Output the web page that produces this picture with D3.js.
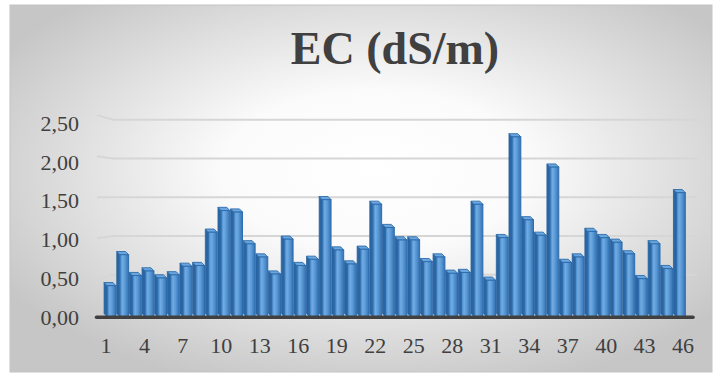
<!DOCTYPE html>
<html>
<head>
<meta charset="utf-8">
<script src="https://cdn.jsdelivr.net/npm/d3@7"></script>
<style>
  html, body { margin: 0; padding: 0; background: #ffffff; }
  svg { display: block; }
</style>
</head>
<body>
<svg id="chart" width="722" height="378"></svg>
<script>
// Sample numbers 1..46
const categories = d3.range(1, 47).map(String);

// Electrical conductivity per sample, dS/m
const ecValues = [
  0.40, 0.80, 0.53, 0.59, 0.50, 0.54, 0.65, 0.66, 1.09, 1.37,
  1.35, 0.94, 0.77, 0.55, 1.00, 0.66, 0.74, 1.51, 0.86, 0.68,
  0.87, 1.45, 1.15, 0.99, 0.99, 0.71, 0.77, 0.56, 0.57, 1.45,
  0.47, 1.02, 2.32, 1.25, 1.05, 1.93, 0.70, 0.77, 1.10, 1.02,
  0.96, 0.81, 0.49, 0.94, 0.62, 1.60
];

const yTicks = [0, 0.5, 1.0, 1.5, 2.0, 2.5];
const xTickLabels = categories.filter((d, i) => i % 3 === 0);
const title = "EC (dS/m)";

const W = 722, H = 378;
const svg = d3.select("#chart");
const defs = svg.append("defs");

// Chart area background: soft radial glow
const bg = defs.append("radialGradient").attr("id", "bgGrad")
  .attr("cx", "52%").attr("cy", "45%").attr("r", "62%");
bg.append("stop").attr("offset", "0%").attr("stop-color", "#ffffff");
bg.append("stop").attr("offset", "35%").attr("stop-color", "#fbfbfb");
bg.append("stop").attr("offset", "100%").attr("stop-color", "#c6c6c6");

// Column front face shading
const fg = defs.append("linearGradient").attr("id", "frontGrad")
  .attr("x1", "0%").attr("x2", "100%").attr("y1", "0%").attr("y2", "0%");
fg.append("stop").attr("offset", "0%").attr("stop-color", "#3a7fc2");
fg.append("stop").attr("offset", "30%").attr("stop-color", "#72abe2");
fg.append("stop").attr("offset", "55%").attr("stop-color", "#5d9cd8");
fg.append("stop").attr("offset", "100%").attr("stop-color", "#3272b4");

const frame = { x: 10, y: 5, w: 702, h: 367 };
svg.append("rect")
  .attr("x", frame.x).attr("y", frame.y)
  .attr("width", frame.w).attr("height", frame.h)
  .attr("fill", "url(#bgGrad)")
  .attr("stroke", "#c4c4c4").attr("stroke-width", 1);

// Title
svg.append("text")
  .attr("x", 395).attr("y", 64)
  .attr("text-anchor", "middle")
  .attr("font-family", "'Liberation Serif', 'Times New Roman', serif")
  .attr("font-weight", "bold")
  .attr("font-size", 46)
  .attr("fill", "#404040")
  .text(title);

// Scales
const baseY = 316.7;
const depth = 3.2;
const y = d3.scaleLinear().domain([0, 2.5]).range([baseY, baseY - 2.5 * 77.5]);
const xBar = d3.scaleBand().domain(categories).range([103.5, 685.5]).paddingInner(0).paddingOuter(0);
const xLab = d3.scaleBand().domain(categories).range([99.5, 689.5]);

const fmt = v => d3.format(".2f")(v).replace(".", ",");

// Back-wall gridlines with a short side-wall segment at the left
const grid = svg.append("g");
yTicks.slice(1).forEach(t => {
  const gy = y(t) - depth;
  const slant = (gy - 197) * 0.06;
  grid.append("path")
    .attr("d", `M97,${gy + slant} L113,${gy} L697,${gy}`)
    .attr("fill", "none")
    .attr("stroke", "#d6d6d6")
    .attr("stroke-width", 2);
});

// Y axis labels
svg.append("g").selectAll("text").data(yTicks).join("text")
  .attr("x", 79)
  .attr("y", d => y(d) + 8)
  .attr("text-anchor", "end")
  .attr("font-family", "'Liberation Serif', 'Times New Roman', serif")
  .attr("font-size", 22)
  .attr("fill", "#404040")
  .text(fmt);

// 3D columns
const bw = xBar.bandwidth();
const side = 3;
const bars = svg.append("g");
categories.forEach((c, i) => {
  const v = ecValues[i];
  const x0 = xBar(c) + 0.6;
  const xf = x0 + side;
  const xr = x0 + bw - 0.8;
  const yt = y(v);
  const g = bars.append("g");
  // side face
  g.append("path")
    .attr("d", `M${x0},${yt - depth} L${xf},${yt} L${xf},${baseY} L${x0},${baseY - depth} Z`)
    .attr("fill", "#2b66a3").attr("stroke", "#27609b").attr("stroke-width", 0.8);
  // top face
  g.append("path")
    .attr("d", `M${x0},${yt - depth} L${xr - side},${yt - depth} L${xr},${yt} L${xf},${yt} Z`)
    .attr("fill", "#6aa5de").attr("stroke", "#2e6dad").attr("stroke-width", 0.9);
  // front face
  g.append("rect")
    .attr("x", xf).attr("y", yt)
    .attr("width", xr - xf).attr("height", baseY - yt)
    .attr("fill", "url(#frontGrad)")
    .attr("stroke", "#2e6dad").attr("stroke-width", 1);
});

// Floor edge
svg.append("line")
  .attr("x1", 96.5).attr("x2", 693)
  .attr("y1", baseY + 0.5).attr("y2", baseY + 0.5)
  .attr("stroke", "#404040").attr("stroke-width", 3.5)
  .attr("stroke-linecap", "round");

// X axis labels
svg.append("g").selectAll("text").data(xTickLabels).join("text")
  .attr("x", d => xLab(d) + xLab.bandwidth() / 2)
  .attr("y", 353)
  .attr("text-anchor", "middle")
  .attr("font-family", "'Liberation Serif', 'Times New Roman', serif")
  .attr("font-size", 22)
  .attr("fill", "#404040")
  .text(d => d);
</script>
</body>
</html>
